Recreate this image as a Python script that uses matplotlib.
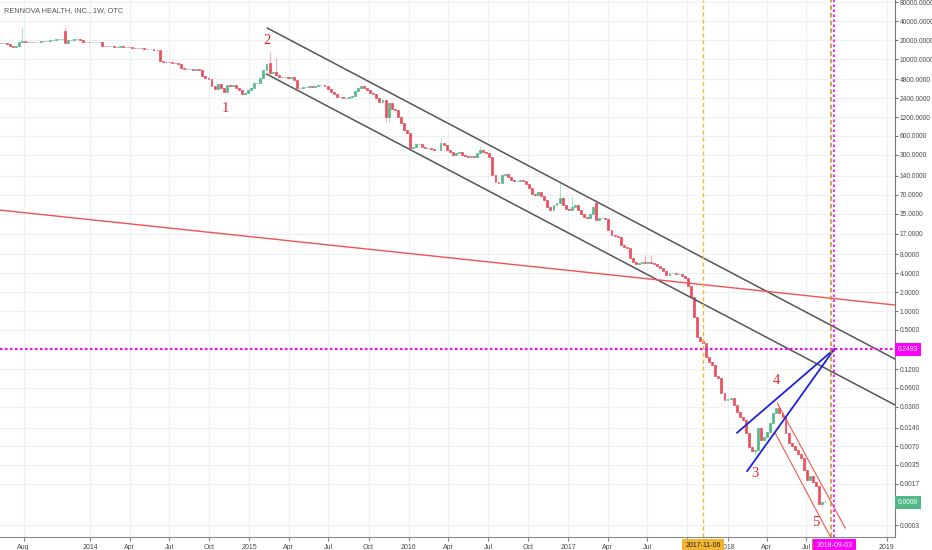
import numpy as np
import pandas as pd
import matplotlib
matplotlib.use("Agg")
import matplotlib.pyplot as plt
import matplotlib.dates as mdates
from matplotlib.transforms import blended_transform_factory

# ---------------- data ----------------
title = "RENNOVA HEALTH, INC., 1W, OTC"
first_week = "2013-06-10"
first_open = 18200

closes = [
    17930, 17930, 17290, 16370, 15780, 16070, 18940, 19640, 18600, 18400,
    18600, 18400, 18940, 19290, 19080, 19640, 20000, 20370, 20750, 21130,
    21130, 18100, 20000, 20000, 20750, 20750, 20370, 18800, 18940, 18600,
    18800, 18600, 18600, 16250, 16070, 15900, 16070, 15780, 15640, 15900,
    15640, 15780, 15500, 15220, 14940, 15220, 14940, 14670, 14410, 14410,
    14150, 13890, 9280, 9120, 9070, 8960, 8730, 8640, 8330, 7200,
    6940, 6820, 6820, 6690, 6820, 6690, 5380, 5000, 4820, 3730,
    3350, 4020, 3470, 3000, 3870, 3730, 3800, 3470, 3230, 2790,
    2890, 3230, 3470, 4160, 4160, 5000, 6690, 8330, 6000, 6220,
    5580, 5180, 5090, 5180, 5000, 5090, 4650, 3470, 3470, 3600,
    3660, 3730, 3660, 3730, 3800, 3800, 3730, 3350, 3000, 2790,
    2490, 2490, 2445, 2400, 2490, 2580, 3100, 3460, 3720, 3460,
    3215, 2880, 2780, 2400, 2075, 2230, 1200, 2000, 1607, 1550,
    1200, 961, 744, 667, 386, 400, 446, 446, 400, 386,
    386, 372, 359, 359, 463, 430, 359, 333, 299, 321,
    333, 299, 288, 278, 288, 278, 321, 359, 333, 321,
    278, 144, 112, 108, 144, 149, 134, 120, 116, 116,
    120, 116, 104, 89.3, 71.8, 69.2, 77.2, 66.7, 57.6, 44.6,
    40.0, 48.0, 51.7, 62.0, 48.0, 41.5, 40.0, 44.6, 48.0, 40.0,
    34.6, 31.0, 29.9, 34.6, 44.6, 27.8, 29.9, 29.9, 28.8, 19.3,
    16.1, 15.5, 14.9, 11.2, 10.4, 10.0, 6.92, 5.98, 5.56, 5.77,
    5.98, 5.77, 5.98, 5.77, 5.56, 5.17, 4.80, 4.31, 3.72, 4.00,
    4.00, 3.86, 3.86, 3.59, 3.34, 2.49, 1.67, 0.80, 0.386, 0.334,
    0.31, 0.186, 0.155, 0.139, 0.0926, 0.0861, 0.0498, 0.0386, 0.040, 0.0415,
    0.0322, 0.0249, 0.0208, 0.0186, 0.0116, 0.0068, 0.0059, 0.0061, 0.0138, 0.0088,
    0.0099, 0.0119, 0.0166, 0.024, 0.0288, 0.024, 0.0207, 0.0115, 0.0079, 0.0071,
    0.0061, 0.0053, 0.0045, 0.0029, 0.00197, 0.0023, 0.0018, 0.00157, 0.00076, 0.00083,
    0.00083,
]
gap_opens = {21: 27780, 88: 8640, 195: 51.7}
wick_highs = {7: 31000, 21: 32500, 88: 12900, 90: 10370, 144: 556, 157: 415,
              183: 108, 187: 64.3, 195: 57.6, 211: 7.75, 213: 7.75}
wick_lows = {126: 1000, 127: 1000, 247: 0.00507, 269: 0.00067}

ytick_vals = [80000, 40000, 20000, 10000, 4800, 2400, 1200, 600, 300, 140, 70,
              35, 17, 8, 4, 2, 1, 0.5, 0.12, 0.06, 0.03, 0.014, 0.007, 0.0035,
              0.0017, 0.0003]
ytick_labels = ["80000.0000", "40000.0000", "20000.0000", "10000.0000", "4800.0000",
                "2400.0000", "1200.0000", "600.0000", "300.0000", "140.0000",
                "70.0000", "35.0000", "17.0000", "8.0000", "4.0000", "2.0000",
                "1.0000", "0.5000", "0.1200", "0.0600", "0.0300", "0.0140",
                "0.0070", "0.0035", "0.0017", "0.0003"]

xtick_dates = ["2013-08-01", "2014-01-01", "2014-04-01", "2014-07-01", "2014-10-01",
               "2015-01-01", "2015-04-01", "2015-07-01", "2015-10-01", "2016-01-01",
               "2016-04-01", "2016-07-01", "2016-10-01", "2017-01-01", "2017-04-01",
               "2017-07-01", "2017-10-01", "2018-01-01", "2018-04-01", "2018-07-01",
               "2019-01-01"]
xtick_labels = ["Aug", "2014", "Apr", "Jul", "Oct", "2015", "Apr", "Jul", "Oct",
                "2016", "Apr", "Jul", "Oct", "2017", "Apr", "Jul", "Oct", "2018",
                "Apr", "Jul", "2019"]

level_price = 0.2493
level_label = "0.2493"
last_label = "0.0008"

# trend lines: (date, price) endpoints
channel_upper = [("2015-02-11", 31000), ("2019-01-20", 0.1729)]
channel_lower = [("2015-02-09", 5780), ("2019-01-20", 0.0322)]
long_red = [("2013-06-08", 40.0), ("2019-01-20", 1.245)]
blue_a = [("2018-01-23", 0.0116), ("2018-09-03", 0.2493)]
blue_b = [("2018-02-15", 0.00278), ("2018-09-03", 0.2493)]
red_ch_upper = [("2018-04-25", 0.0346), ("2018-09-28", 0.000259)]
red_ch_lower = [("2018-04-20", 0.0116), ("2018-08-29", 0.000131)]

vline_a = "2017-11-06"
vline_b = "2018-08-27"
vline_c = "2018-09-03"

wave_labels = ["1", "2", "3", "4", "5"]
wave_dates = ["2014-11-07", "2015-02-11", "2018-03-05", "2018-04-22", "2018-07-23"]
wave_prices = [1667, 20000, 0.00258, 0.0775, 0.000346]

# ---------------- style ----------------
UP = "#53b987"
DOWN = "#eb4d5c"
GRID = "#edf0f5"
TXT = "#4a4a4a"
FS = 5.0
FSY = 4.8
plt.rcParams["font.family"] = ["Liberation Sans Narrow", "Liberation Sans", "DejaVu Sans"]

W, H = 932, 550
fig = plt.figure(figsize=(W / 100, H / 100), dpi=100)
fig.patch.set_facecolor("white")
ax = fig.add_axes([0, 13 / H, 895 / W, 537 / H])

OFF = 1e-4
def fwd(p):
    return np.log10(np.maximum(np.asarray(p, dtype=float) + OFF, 1e-12))
def inv(y):
    return 10 ** np.asarray(y, dtype=float) - OFF
ax.set_yscale("function", functions=(fwd, inv))

d2n = lambda s: mdates.date2num(pd.Timestamp(s))

ax.set_xlim(d2n("2013-06-08"), d2n("2019-01-20"))
ax.set_ylim(0.000159, 86430)

# grid
for v in ytick_vals:
    ax.axhline(v, color=GRID, lw=0.9, zorder=0)
for d in xtick_dates:
    ax.axvline(d2n(d), color=GRID, lw=0.9, zorder=0)

# candles
dates = pd.date_range(first_week, periods=len(closes), freq="7D")
xs = mdates.date2num(dates)
c = np.array(closes, dtype=float)
o = np.empty_like(c)
o[0] = first_open
o[1:] = c[:-1]
for k, v in gap_opens.items():
    o[k] = v
top = np.maximum(o, c)
bot = np.minimum(o, c)
cols = [UP if cc >= oo else DOWN for oo, cc in zip(o, c)]
hi = top.copy()
lo = bot.copy()
for k, v in wick_highs.items():
    hi[k] = v
for k, v in wick_lows.items():
    lo[k] = v
ax.vlines(xs, lo, hi, colors=cols, lw=0.8, alpha=0.45, zorder=2)
ax.bar(xs, top - bot, bottom=bot, width=4.4, color=cols, edgecolor=cols,
       linewidth=0.5, zorder=3)

# trend lines
def seg(pts, **kw):
    ax.plot([d2n(pts[0][0]), d2n(pts[1][0])], [pts[0][1], pts[1][1]], **kw)

seg(channel_upper, color="#555555", lw=1.1, zorder=5)
seg(channel_lower, color="#555555", lw=1.1, zorder=5)
seg(long_red, color="#f05252", lw=1.0, zorder=5)
seg(red_ch_upper, color="#f05a4a", lw=0.8, zorder=5)
seg(red_ch_lower, color="#f05a4a", lw=0.8, zorder=5)
seg(blue_a, color="#1f22d6", lw=1.3, zorder=6)
seg(blue_b, color="#1f22d6", lw=1.3, zorder=6)

ax.axhline(level_price, color="#ff00ff", lw=1.5, ls=(0, (1.2, 1.2)), zorder=6)
ax.axvline(d2n(vline_a), color="#f7b528", lw=1.0, ls=(0, (3, 2)), zorder=6)
ax.axvline(d2n(vline_b), color="#c98a1e", lw=1.1, ls=(0, (3, 2)), zorder=6)
ax.axvline(d2n(vline_c), color="#ff00ff", lw=1.2, ls=(0, (1.5, 1.5)), zorder=6)

# wave labels
for t, d, p in zip(wave_labels, wave_dates, wave_prices):
    ax.text(d2n(d), p, t, color="#e3262f", fontsize=10.5, ha="center", va="center",
            family=["Liberation Serif", "DejaVu Serif"], zorder=7)

# axes styling
for s in ["top", "left"]:
    ax.spines[s].set_visible(False)
ax.spines["right"].set_color("#777777")
ax.spines["bottom"].set_color("#888888")
ax.yaxis.tick_right()
ax.set_yticks(ytick_vals)
ax.set_yticklabels(ytick_labels)
ax.yaxis.set_minor_locator(matplotlib.ticker.NullLocator())
ax.set_xticks([d2n(d) for d in xtick_dates])
ax.set_xticklabels(xtick_labels)
ax.tick_params(axis="y", which="major", direction="out", length=2.5, width=0.8,
               color="#777777", labelsize=FSY, labelcolor=TXT, pad=1.0)
ax.tick_params(axis="x", which="major", direction="out", length=3, width=0.8,
               color="#888888", labelsize=FS, labelcolor=TXT, pad=2.2)

# axis label boxes
tx = blended_transform_factory(ax.transData, ax.transAxes)
ax.text(d2n(vline_a), -0.0155, "2017-11-06", transform=tx, ha="center", va="center",
        fontsize=FS, color="#222222", clip_on=False, zorder=10,
        bbox=dict(boxstyle="square,pad=0.45", fc="#f3b52f", ec="none"))
ax.text(d2n(vline_b) + 5, -0.0155, "2018-08-27", transform=tx, ha="center", va="center",
        fontsize=FS, color="#222222", clip_on=False, zorder=10,
        bbox=dict(boxstyle="square,pad=0.45", fc="#c98a1e", ec="none"))
ax.text(d2n(vline_c), -0.0155, "2018-09-03", transform=tx, ha="center", va="center",
        fontsize=FS, color="white", clip_on=False, zorder=11,
        bbox=dict(boxstyle="square,pad=0.45", fc="#ff00ff", ec="none"))

ty = blended_transform_factory(ax.transAxes, ax.transData)
ax.text(1.003, level_price, level_label, transform=ty, ha="left", va="center",
        fontsize=FSY, color="white", clip_on=False, zorder=10,
        bbox=dict(boxstyle="square,pad=0.45", fc="#ff00ff", ec="none"))
ax.text(1.003, closes[-1], last_label, transform=ty, ha="left", va="center",
        fontsize=FSY, color="white", clip_on=False, zorder=10,
        bbox=dict(boxstyle="square,pad=0.45", fc=UP, ec="none"))

fig.text(4 / W, 1 - 11 / H, title, fontsize=5.3, color="#555555", va="center", ha="left")

fig.savefig("out.png", dpi=100, facecolor="white")
